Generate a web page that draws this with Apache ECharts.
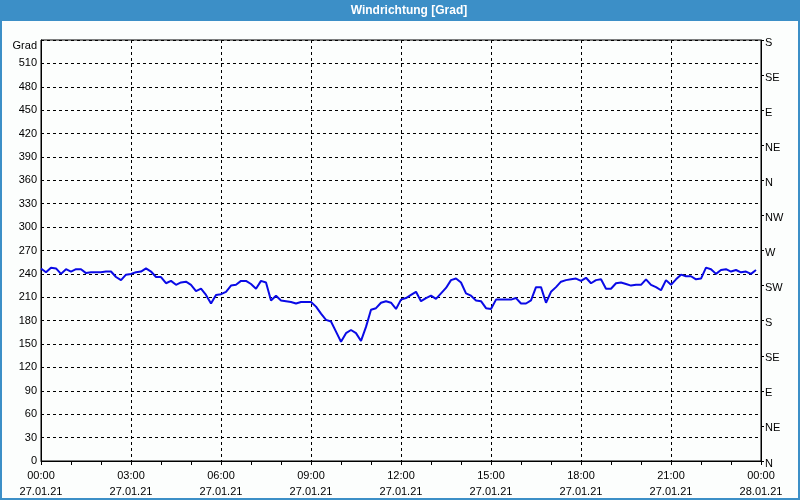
<!DOCTYPE html>
<html>
<head>
<meta charset="utf-8">
<script src="https://cdn.jsdelivr.net/npm/echarts@6/dist/echarts.min.js"></script>
<style>
  html, body { margin: 0; padding: 0; background: #fcfefd; }
  #chart { width: 800px; height: 500px; }
</style>
</head>
<body>
<div id="chart"></div>
<script>
// ---- data ----
const chartTitle = 'Windrichtung [Grad]';
const yUnit = 'Grad';
const stepMinutes = 10; // one reading every 10 minutes, starting 27.01.21 00:00
const windDirection = [
  247, 242, 248, 247, 240, 246, 243, 246, 246, 241,
  242, 242, 242, 243, 243, 236, 232, 239, 240, 242,
  243, 247, 243, 236, 236, 228, 231, 226, 229, 230,
  226, 218, 221, 213, 202, 213, 214, 217, 225, 226,
  231, 231, 227, 221, 231, 229, 206, 212, 206, 205,
  204, 202, 204, 204, 204, 198, 189, 181, 179, 166,
  153, 164, 168, 164, 154, 172, 194, 196, 203, 205,
  203, 195,
  207, 209, 213, 217, 205, 209, 212, 208, 215, 222,
  232, 234, 229, 215, 212, 206, 205, 196, 195, 207,
  207, 207, 207, 209, 202, 202, 206, 223, 223, 203,
  217, 223, 230, 232, 233, 234, 231, 235, 228, 232,
  233, 221, 221, 228, 229, 227, 225, 226, 226, 233,
  226, 223, 219, 232, 226, 233, 239, 237, 237, 233,
  234, 248, 246, 240, 245, 246, 243, 245, 242, 243,
  240, 245
];
const xTickLabels = [
  '00:00\n27.01.21', '03:00\n27.01.21', '06:00\n27.01.21', '09:00\n27.01.21',
  '12:00\n27.01.21', '15:00\n27.01.21', '18:00\n27.01.21', '21:00\n27.01.21',
  '00:00\n28.01.21'
];
const compassLabels = ['N', 'NE', 'E', 'SE', 'S', 'SW', 'W', 'NW', 'N', 'NE', 'E', 'SE', 'S'];

// ---- chart ----
const seriesData = windDirection.map((v, i) => [i * stepMinutes, v]);
const font = 'Liberation Sans';
const chart = echarts.init(document.getElementById('chart'), null, { renderer: 'canvas' });

chart.setOption({
  backgroundColor: '#fcfefd',
  animation: false,
  textStyle: { fontFamily: font },
  grid: {
    left: 41, right: 39, top: 40, bottom: 39,
    show: true, borderColor: '#000', borderWidth: 1, backgroundColor: 'transparent'
  },
  graphic: [
    { type: 'rect', shape: { x: 0, y: 0, width: 800, height: 21 }, style: { fill: '#3c8fc7' }, z: 100 },
    { type: 'rect', shape: { x: 0, y: 0, width: 2, height: 500 }, style: { fill: '#3c8fc7' }, z: 100 },
    { type: 'rect', shape: { x: 798, y: 0, width: 2, height: 500 }, style: { fill: '#3c8fc7' }, z: 100 },
    { type: 'rect', shape: { x: 0, y: 498, width: 800, height: 2 }, style: { fill: '#3c8fc7' }, z: 100 },
    { type: 'text', x: 409, y: 10.5, z: 101,
      style: { text: chartTitle, fill: '#fff', font: 'bold 12px "Liberation Sans"', align: 'center', verticalAlign: 'middle' } },
    { type: 'text', x: 37, y: 46, z: 101,
      style: { text: yUnit, fill: '#000', font: '11px "Liberation Sans"', align: 'right', verticalAlign: 'middle' } }
  ],
  xAxis: {
    type: 'value',
    min: 0, max: 1440, interval: 180,
    axisLine: { show: true, lineStyle: { color: '#000', width: 1 } },
    axisTick: { show: true, length: 4, lineStyle: { color: '#000' } },
    minorTick: { show: true, splitNumber: 3, length: 4, lineStyle: { color: '#000' } },
    splitLine: { show: true, lineStyle: { color: '#000', type: [3, 3], width: 1 } },
    axisLabel: {
      color: '#000', fontSize: 11, fontFamily: font, lineHeight: 16, margin: 7,
      showMinLabel: true, showMaxLabel: true,
      formatter: (v) => xTickLabels[Math.round(v / 180)]
    }
  },
  yAxis: [
    {
      type: 'value', position: 'left',
      min: 0, max: 540, interval: 30,
      axisLine: { show: true, lineStyle: { color: '#000', width: 1 } },
      axisTick: { show: false },
      splitLine: { show: true, lineStyle: { color: '#000', type: [3, 3], width: 1 } },
      axisLabel: {
        color: '#000', fontSize: 11, fontFamily: font, margin: 4,
        formatter: (v) => (v === 540 ? '' : String(v))
      }
    },
    {
      type: 'value', position: 'right',
      min: 0, max: 540, interval: 45,
      axisLine: { show: true, lineStyle: { color: '#000', width: 1 } },
      axisTick: { show: true, length: 3, lineStyle: { color: '#000' } },
      splitLine: { show: false },
      axisLabel: {
        color: '#000', fontSize: 11, fontFamily: font, margin: 4,
        formatter: (v) => '{c|' + compassLabels[Math.round(v / 45)] + '}',
        rich: { c: { color: '#000', fontSize: 11, fontFamily: font, padding: [5, 0, 0, 0] } }
      }
    }
  ],
  series: [{
    type: 'line',
    data: seriesData,
    yAxisIndex: 0,
    showSymbol: false,
    symbol: 'none',
    lineStyle: { color: '#0a0ae6', width: 2 },
    z: 10
  }]
});
</script>
</body>
</html>
